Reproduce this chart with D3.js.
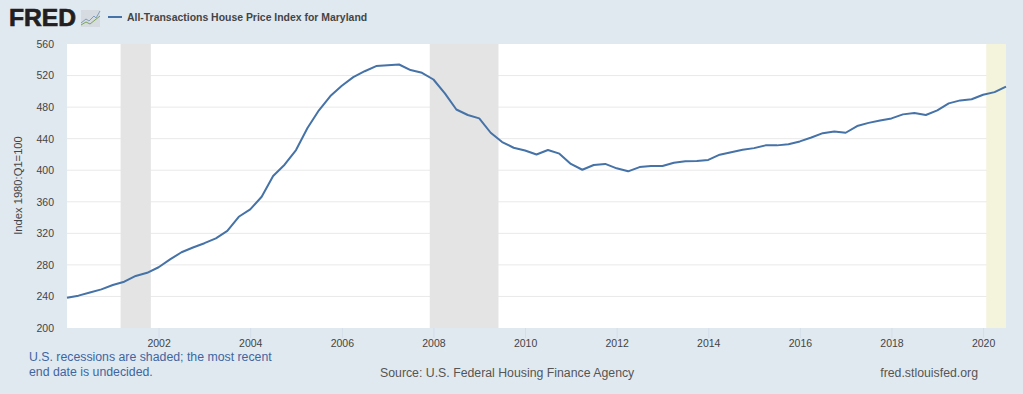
<!DOCTYPE html>
<html>
<head>
<meta charset="utf-8">
<title>All-Transactions House Price Index for Maryland</title>
<script src="https://cdn.jsdelivr.net/npm/d3@7"></script>
<style>
    html, body { margin: 0; padding: 0; background: #e1e9f0; overflow: hidden; }
    text { font-family: "Liberation Sans", Arial, sans-serif; }
    .domain { display: none; }
</style>
</head>
<body>
<div id="chart"></div>
<script>
// Quarterly index values, 2000 Q1 to 2020 Q3
const quarterStart = 2000;
const hpiValues = [
    238.4, 241, 245, 249,
    254.5, 258.7, 266, 270,
    277, 287, 296, 302,
    307.5, 313.7, 323, 341,
    350.4, 366.4, 392.6, 407,
    425.6, 453.5, 476, 494,
    507, 518, 525.5, 532,
    533, 534, 527, 523.5,
    515, 497.5, 477, 470,
    465.7, 447.5, 435.7, 428.5,
    425, 420, 425.6, 421,
    408, 400.6, 406.6, 408,
    402.4, 398.6, 404, 405.3,
    405.3, 409.5, 411.3, 411.7,
    413, 419.7, 422.7, 426,
    428, 431.5, 431.5, 433,
    436.5, 441.5, 447, 449,
    447.5, 456, 460, 463,
    465.7, 470.8, 472.5, 470,
    475.8, 484.7, 488.5, 490,
    495.7, 499, 506
];
const quarters = hpiValues.map((v, i) => quarterStart + i / 4);

// Recession spans as fractional years
const recessions = [[2001.17, 2001.83], [2007.92, 2009.42]];
const undecidedRecession = [2020.07, 2020.5];

const yTicks = [200, 240, 280, 320, 360, 400, 440, 480, 520, 560];
const xTicks = [2002, 2004, 2006, 2008, 2010, 2012, 2014, 2016, 2018, 2020];

const seriesTitle = "All-Transactions House Price Index for Maryland";
const yTitle = "Index 1980:Q1=100";
const recessionNote = ["U.S. recessions are shaded; the most recent", "end date is undecided."];
const sourceText = "Source: U.S. Federal Housing Finance Agency";
const siteText = "fred.stlouisfed.org";

const width = 1023, height = 394;
const margin = {top: 44, right: 17, bottom: 66, left: 67};
const lineColor = "#4572a7";

const svg = d3.select("#chart").append("svg")
    .attr("width", width)
    .attr("height", height)
    .style("display", "block");

const xScale = d3.scaleLinear()
    .domain([quarterStart, 2020.5])
    .range([margin.left, width - margin.right]);

const yScale = d3.scaleLinear()
    .domain([200, 560])
    .range([height - margin.bottom, margin.top]);

// Plot background
svg.append("rect")
    .attr("x", margin.left)
    .attr("y", margin.top)
    .attr("width", width - margin.left - margin.right)
    .attr("height", height - margin.top - margin.bottom)
    .attr("fill", "#fff");

// Gridlines
svg.selectAll("line.grid")
    .data(yTicks.slice(1, -1))
    .enter().append("line")
    .attr("class", "grid")
    .attr("x1", margin.left)
    .attr("x2", width - margin.right)
    .attr("y1", d => yScale(d))
    .attr("y2", d => yScale(d))
    .style("stroke", "#e9e9e9")
    .style("stroke-width", 1);

// Recession bands
const bandTop = yScale(560), bandHeight = yScale(200) - yScale(560);
svg.selectAll("rect.recession")
    .data(recessions)
    .enter().append("rect")
    .attr("class", "recession")
    .attr("x", d => xScale(d[0]))
    .attr("width", d => xScale(d[1]) - xScale(d[0]))
    .attr("y", bandTop)
    .attr("height", bandHeight)
    .attr("fill", "#e4e4e4");

svg.append("rect")
    .attr("x", xScale(undecidedRecession[0]))
    .attr("width", xScale(undecidedRecession[1]) - xScale(undecidedRecession[0]))
    .attr("y", bandTop)
    .attr("height", bandHeight)
    .attr("fill", "#f4f3dc");

// Axes
const yAxis = svg.append("g")
    .attr("transform", `translate(${margin.left},0)`)
    .call(d3.axisLeft(yScale).tickValues(yTicks).tickSize(0).tickPadding(13));
yAxis.selectAll("text").attr("font-size", 10.5).attr("fill", "#444").style("font-family", "Liberation Sans");

const xAxis = svg.append("g")
    .attr("transform", `translate(0,${height - margin.bottom})`)
    .call(d3.axisBottom(xScale).tickValues(xTicks).tickFormat(d3.format("d")).tickSize(10).tickPadding(2));
xAxis.selectAll("line").attr("stroke", "#d3deea");
xAxis.selectAll("text").attr("font-size", 10.5).attr("fill", "#444").style("font-family", "Liberation Sans");

svg.append("text")
    .attr("transform", `translate(21.5,${(margin.top + height - margin.bottom) / 2 - 0.5}) rotate(-90)`)
    .attr("text-anchor", "middle")
    .attr("font-size", 11.2)
    .attr("fill", "#444")
    .text(yTitle);

// Series line
const lineGenerator = d3.line()
    .x((d, i) => xScale(quarters[i]))
    .y(d => yScale(d));

svg.append("path")
    .datum(hpiValues)
    .attr("fill", "none")
    .attr("stroke", lineColor)
    .attr("stroke-width", 2)
    .attr("stroke-linejoin", "round")
    .attr("d", lineGenerator);

// Logo wordmark and little chart icon
svg.append("text")
    .attr("x", 9)
    .attr("y", 26)
    .attr("font-size", 24.5)
    .attr("font-weight", 700)
    .attr("fill", "#231f20")
    .attr("stroke", "#231f20")
    .attr("stroke-width", 0.7)
    .attr("textLength", 67)
    .attr("lengthAdjust", "spacingAndGlyphs")
    .text("FRED");

const icon = svg.append("g").attr("transform", "translate(81,10)");
icon.append("rect").attr("width", 19).attr("height", 17).attr("fill", "#d5dbe0");
const iconLine = d3.line();
icon.append("path")
    .attr("d", iconLine([[0, 13], [5, 9], [8, 11], [13, 6], [15, 8], [19, 1]]))
    .attr("fill", "none").attr("stroke", "#7f9fc0").attr("stroke-width", 1);
icon.append("path")
    .attr("d", iconLine([[0, 15], [5, 12], [9, 14], [14, 10], [19, 6]]))
    .attr("fill", "none").attr("stroke", "#7ea35a").attr("stroke-width", 1);

// Legend
svg.append("line")
    .attr("x1", 108).attr("x2", 122)
    .attr("y1", 17).attr("y2", 17)
    .attr("stroke", lineColor)
    .attr("stroke-width", 2);

svg.append("text")
    .attr("x", 127)
    .attr("y", 21)
    .attr("font-size", 10.45)
    .attr("font-weight", 700)
    .attr("fill", "#444")
    .text(seriesTitle);

// Footer notes
svg.selectAll("text.note")
    .data(recessionNote)
    .enter().append("text")
    .attr("class", "note")
    .attr("x", 29)
    .attr("y", (d, i) => 361 + i * 15)
    .attr("font-size", 12.3)
    .attr("fill", "#3e66a0")
    .text(d => d);

svg.append("text")
    .attr("x", 380)
    .attr("y", 376.5)
    .attr("font-size", 12.3)
    .attr("fill", "#555")
    .text(sourceText);

svg.append("text")
    .attr("x", 978)
    .attr("y", 376.5)
    .attr("text-anchor", "end")
    .attr("font-size", 12.3)
    .attr("fill", "#555")
    .text(siteText);
</script>
</body>
</html>
